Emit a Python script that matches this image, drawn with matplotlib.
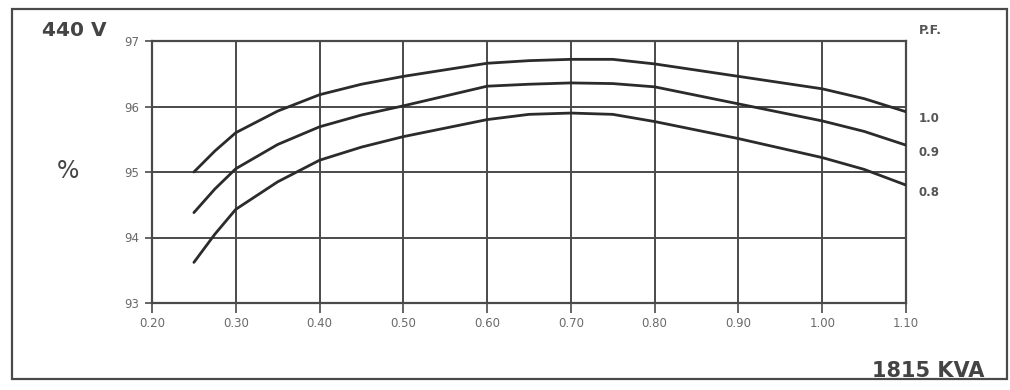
import matplotlib
matplotlib.use("Agg")
import matplotlib.pyplot as plt
from matplotlib.patches import Rectangle

# Data
kva_fraction = [0.25, 0.275, 0.30, 0.35, 0.40, 0.45, 0.50, 0.60, 0.65, 0.70, 0.75, 0.80, 0.90, 1.00, 1.05, 1.10]
eff_pf10 = [95.00, 95.32, 95.60, 95.93, 96.18, 96.34, 96.46, 96.66, 96.70, 96.72, 96.72, 96.65, 96.46, 96.27, 96.12, 95.92]
eff_pf09 = [94.38, 94.74, 95.05, 95.42, 95.69, 95.87, 96.01, 96.31, 96.34, 96.36, 96.35, 96.30, 96.04, 95.78, 95.62, 95.41]
eff_pf08 = [93.62, 94.05, 94.43, 94.85, 95.18, 95.38, 95.54, 95.80, 95.88, 95.90, 95.88, 95.77, 95.51, 95.22, 95.04, 94.80]
pf_labels = ["1.0", "0.9", "0.8"]
x_ticks = [0.20, 0.30, 0.40, 0.50, 0.60, 0.70, 0.80, 0.90, 1.00, 1.10]
x_tick_labels = ["0.20", "0.30", "0.40", "0.50", "0.60", "0.70", "0.80", "0.90", "1.00", "1.10"]
y_ticks = [93, 94, 95, 96, 97]
y_tick_labels = ["93", "94", "95", "96", "97"]

W, H = 1010, 390
fig = plt.figure(figsize=(W / 100, H / 100), dpi=100)
fig.patch.set_facecolor("white")

# outer frame
fig.add_artist(Rectangle((12 / W, 1 - 379 / H), (1007 - 12) / W, (379 - 9) / H,
                         transform=fig.transFigure, fill=False, edgecolor="#4a4a4a", lw=1.6))

ax = fig.add_axes([152 / W, 1 - 303 / H, (906 - 152) / W, (303 - 41) / H])
ax.set_xlim(0.20, 1.10)
ax.set_ylim(93, 97)

grid_color = "#4a4a4a"
for xv in x_ticks:
    ax.axvline(xv, color=grid_color, lw=1.4, zorder=1)
for yv in y_ticks:
    ax.axhline(yv, color=grid_color, lw=1.4, zorder=1)

curve_color = "#2b2b2b"
for series in (eff_pf10, eff_pf09, eff_pf08):
    ax.plot(kva_fraction, series, color=curve_color, lw=2.0, zorder=3, solid_capstyle="round")

for s in ax.spines.values():
    s.set_color(grid_color)
    s.set_linewidth(1.6)

ax.set_xticks(x_ticks)
ax.set_xticklabels(x_tick_labels)
ax.set_yticks(y_ticks)
ax.set_yticklabels(y_tick_labels)
ax.tick_params(axis="both", colors=grid_color, labelcolor="#6a6a6a", labelsize=8.5,
               width=1.2)
ax.tick_params(axis="x", length=7, pad=3)
ax.tick_params(axis="y", length=5, pad=4)

# PF labels on the right
for lab, series in zip(pf_labels, (eff_pf10, eff_pf09, eff_pf08)):
    ax.annotate(lab, xy=(1.10, series[-1]), xytext=(9, -5), textcoords="offset points",
                fontsize=8.5, fontweight="bold", color="#555555", va="center", ha="left",
                annotation_clip=False)

fig.text(42 / W, 1 - 30 / H, "440 V", fontsize=14.5, fontweight="bold", color="#444444",
         ha="left", va="center")
fig.text(68 / W, 1 - 171 / H, "%", fontsize=17, color="#444444", ha="center", va="center")
fig.text(930 / W, 1 - 31 / H, "P.F.", fontsize=9, fontweight="bold", color="#555555",
         ha="center", va="center")
fig.text(984 / W, 1 - 371 / H, "1815 KVA", fontsize=15, fontweight="bold", color="#444444",
         ha="right", va="center")

fig.savefig("out.png", dpi=100, facecolor="white")
